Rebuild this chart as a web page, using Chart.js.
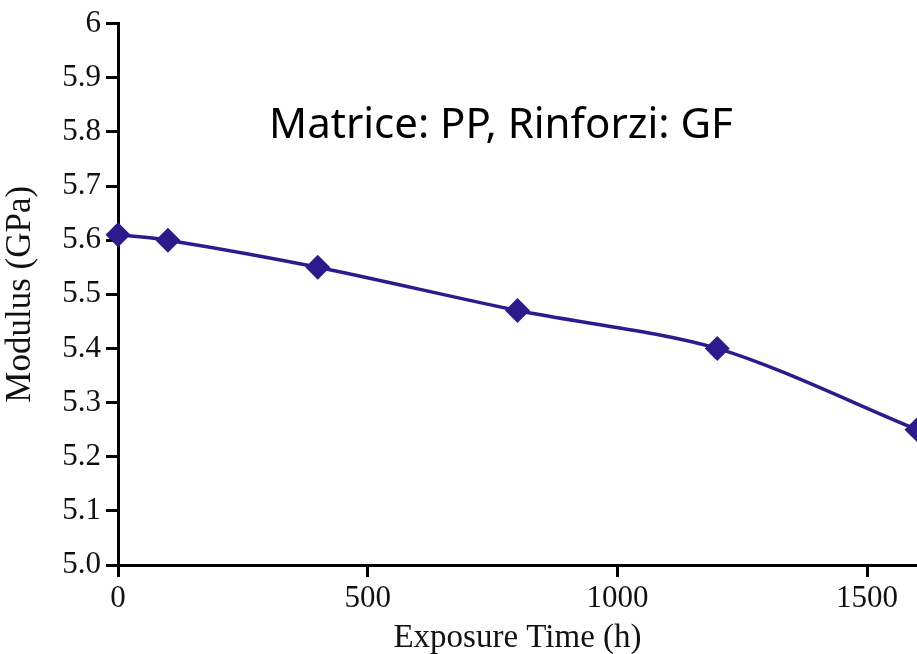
<!DOCTYPE html>
<html>
<head>
<meta charset="utf-8">
<script src="https://cdn.jsdelivr.net/npm/chart.js@4/dist/chart.umd.min.js"></script>
<style>
  html, body { margin: 0; padding: 0; background: #fff; }
  #wrap { width: 917px; height: 654px; }
</style>
</head>
<body>
<div id="wrap"><canvas id="myChart"></canvas></div>
<script>
const exposureHours = [0, 100, 400, 800, 1200, 1600];
const modulusGPa = [5.61, 5.60, 5.55, 5.47, 5.40, 5.25];
const xTickValues = [0, 500, 1000, 1500];
const noteText = "Matrice: PP, Rinforzi: GF";

const lineColor = "#2d1a8c";
const textColor = "#111";
const serif = "'Liberation Serif', 'Times New Roman', serif";

// text note written inside the plot
const notePlugin = {
    id: "note",
    afterDraw(chart) {
        const ctx = chart.ctx;
        ctx.save();
        ctx.font = "42px 'Noto Sans', 'Open Sans', sans-serif";
        ctx.fillStyle = "#000";
        ctx.textAlign = "center";
        ctx.textBaseline = "alphabetic";
        ctx.fillText(noteText, 501, 138);
        ctx.restore();
    }
};

var ctx = document.getElementById('myChart').getContext('2d');
var myChart = new Chart(ctx, {
    type: 'line',
    data: {
        datasets: [{
            data: exposureHours.map((h, i) => ({ x: h, y: modulusGPa[i] })),
            borderColor: lineColor,
            backgroundColor: lineColor,
            borderWidth: 3.5,
            tension: 0.3,
            pointStyle: 'rectRot',
            pointRadius: 10,
            pointHoverRadius: 10,
            clip: false
        }]
    },
    options: {
        responsive: true,
        maintainAspectRatio: false,
        animation: false,
        layout: { autoPadding: false, padding: { top: 22, right: 0, left: 0, bottom: 0 } },
        plugins: {
            legend: { display: false },
            tooltip: { enabled: false }
        },
        scales: {
            x: {
                type: 'linear',
                min: 0,
                max: 1600,
                afterFit(scale) {
                    scale.height = 89;
                    scale.paddingLeft = 0;
                    scale.paddingRight = 0;
                },
                afterBuildTicks(axis) {
                    axis.ticks = xTickValues.map(v => ({ value: v }));
                },
                grid: {
                    drawOnChartArea: false,
                    tickLength: 12,
                    tickWidth: 3,
                    tickColor: '#000'
                },
                border: { color: '#000', width: 3 },
                ticks: {
                    maxRotation: 0,
                    padding: 3,
                    color: textColor,
                    font: { family: serif, size: 31 },
                    callback: v => String(v)
                },
                title: {
                    display: true,
                    text: 'Exposure Time (h)',
                    color: textColor,
                    padding: { top: 0, bottom: -4 },
                    font: { family: serif, size: 33 }
                }
            },
            y: {
                min: 5.0,
                max: 6,
                afterFit(scale) { scale.width = 118; },
                grid: {
                    drawOnChartArea: false,
                    tickLength: 12,
                    tickWidth: 3,
                    tickColor: '#000'
                },
                border: { color: '#000', width: 3 },
                ticks: {
                    stepSize: 0.1,
                    padding: 5,
                    color: textColor,
                    font: { family: serif, size: 31 },
                    callback: v => (Math.abs(v - 6) < 1e-9 ? '6' : Number(v).toFixed(1))
                },
                title: {
                    display: true,
                    text: 'Modulus (GPa)',
                    color: textColor,
                    padding: { top: 0, bottom: 0 },
                    font: { family: serif, size: 35 }
                }
            }
        }
    },
    plugins: [notePlugin]
});
</script>
</body>
</html>
